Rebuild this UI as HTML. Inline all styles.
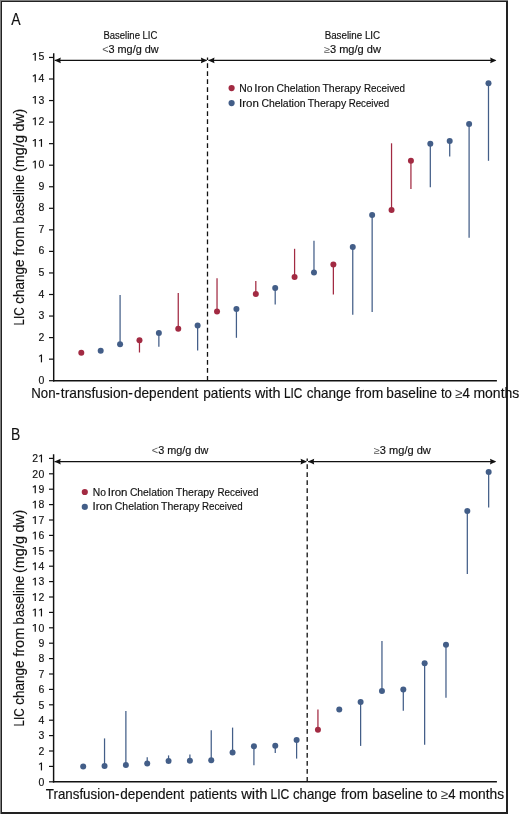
<!DOCTYPE html><html><head><meta charset="utf-8"><style>html,body{margin:0;padding:0;background:#fff;}svg{display:block;will-change:transform;}text{font-family:"Liberation Sans",sans-serif;fill:#111;stroke:#111;stroke-width:0.15px;} .sym{fill:#555;stroke-width:0;} .sym2{fill:#444;stroke-width:0;}</style></head><body>
<svg width="520" height="814" viewBox="0 0 520 814">
<rect x="0" y="0" width="520" height="814" fill="#fff"/>
<rect x="0" y="0" width="1" height="814" fill="#7f7f7f"/>
<rect x="0" y="0" width="508" height="1" fill="#7f7f7f"/>
<rect x="1" y="1" width="1" height="813" fill="#222"/>
<rect x="1" y="1" width="507" height="1" fill="#222"/>
<rect x="506" y="1" width="2" height="813" fill="#222"/>
<rect x="1" y="812" width="507" height="2" fill="#222"/>
<line x1="53.7" y1="53.2" x2="53.7" y2="381.4" stroke="#111" stroke-width="1.45"/>
<line x1="53.0" y1="380.7" x2="496.9" y2="380.7" stroke="#111" stroke-width="1.45"/>
<line x1="49" y1="380.70" x2="53.7" y2="380.70" stroke="#111" stroke-width="1.2"/>
<text x="41.30" y="383.70" font-size="10.5" text-anchor="middle" >0</text>
<line x1="49" y1="359.15" x2="53.7" y2="359.15" stroke="#111" stroke-width="1.2"/>
<path d="M41.45,354.60 V362.35" stroke="#111" stroke-width="1.2" fill="none"/>
<path d="M39.00,356.35 L41.60,354.95" stroke="#111" stroke-width="1.05" fill="none"/>
<line x1="49" y1="337.60" x2="53.7" y2="337.60" stroke="#111" stroke-width="1.2"/>
<text x="41.30" y="340.60" font-size="10.5" text-anchor="middle" >2</text>
<line x1="49" y1="316.05" x2="53.7" y2="316.05" stroke="#111" stroke-width="1.2"/>
<text x="41.30" y="319.05" font-size="10.5" text-anchor="middle" >3</text>
<line x1="49" y1="294.50" x2="53.7" y2="294.50" stroke="#111" stroke-width="1.2"/>
<text x="41.30" y="297.50" font-size="10.5" text-anchor="middle" >4</text>
<line x1="49" y1="272.95" x2="53.7" y2="272.95" stroke="#111" stroke-width="1.2"/>
<text x="41.30" y="275.95" font-size="10.5" text-anchor="middle" >5</text>
<line x1="49" y1="251.40" x2="53.7" y2="251.40" stroke="#111" stroke-width="1.2"/>
<text x="41.30" y="254.40" font-size="10.5" text-anchor="middle" >6</text>
<line x1="49" y1="229.85" x2="53.7" y2="229.85" stroke="#111" stroke-width="1.2"/>
<text x="41.30" y="232.85" font-size="10.5" text-anchor="middle" >7</text>
<line x1="49" y1="208.30" x2="53.7" y2="208.30" stroke="#111" stroke-width="1.2"/>
<text x="41.30" y="211.30" font-size="10.5" text-anchor="middle" >8</text>
<line x1="49" y1="186.75" x2="53.7" y2="186.75" stroke="#111" stroke-width="1.2"/>
<text x="41.30" y="189.75" font-size="10.5" text-anchor="middle" >9</text>
<line x1="49" y1="165.20" x2="53.7" y2="165.20" stroke="#111" stroke-width="1.2"/>
<text x="41.30" y="168.20" font-size="10.5" text-anchor="middle" >0</text>
<path d="M35.25,160.65 V168.40" stroke="#111" stroke-width="1.2" fill="none"/>
<path d="M32.80,162.40 L35.40,161.00" stroke="#111" stroke-width="1.05" fill="none"/>
<line x1="49" y1="143.65" x2="53.7" y2="143.65" stroke="#111" stroke-width="1.2"/>
<path d="M41.45,139.10 V146.85" stroke="#111" stroke-width="1.2" fill="none"/>
<path d="M39.00,140.85 L41.60,139.45" stroke="#111" stroke-width="1.05" fill="none"/>
<path d="M35.25,139.10 V146.85" stroke="#111" stroke-width="1.2" fill="none"/>
<path d="M32.80,140.85 L35.40,139.45" stroke="#111" stroke-width="1.05" fill="none"/>
<line x1="49" y1="122.10" x2="53.7" y2="122.10" stroke="#111" stroke-width="1.2"/>
<text x="41.30" y="125.10" font-size="10.5" text-anchor="middle" >2</text>
<path d="M35.25,117.55 V125.30" stroke="#111" stroke-width="1.2" fill="none"/>
<path d="M32.80,119.30 L35.40,117.90" stroke="#111" stroke-width="1.05" fill="none"/>
<line x1="49" y1="100.55" x2="53.7" y2="100.55" stroke="#111" stroke-width="1.2"/>
<text x="41.30" y="103.55" font-size="10.5" text-anchor="middle" >3</text>
<path d="M35.25,96.00 V103.75" stroke="#111" stroke-width="1.2" fill="none"/>
<path d="M32.80,97.75 L35.40,96.35" stroke="#111" stroke-width="1.05" fill="none"/>
<line x1="49" y1="79.00" x2="53.7" y2="79.00" stroke="#111" stroke-width="1.2"/>
<text x="41.30" y="82.00" font-size="10.5" text-anchor="middle" >4</text>
<path d="M35.25,74.45 V82.20" stroke="#111" stroke-width="1.2" fill="none"/>
<path d="M32.80,76.20 L35.40,74.80" stroke="#111" stroke-width="1.05" fill="none"/>
<line x1="49" y1="57.45" x2="53.7" y2="57.45" stroke="#111" stroke-width="1.2"/>
<text x="41.30" y="60.45" font-size="10.5" text-anchor="middle" >5</text>
<path d="M35.25,52.90 V60.65" stroke="#111" stroke-width="1.2" fill="none"/>
<path d="M32.80,54.65 L35.40,53.25" stroke="#111" stroke-width="1.05" fill="none"/>
<line x1="207.5" y1="380.7" x2="207.5" y2="57.45" stroke="#111" stroke-width="1.3" stroke-dasharray="4.75 3.27"/>
<line x1="54.7" y1="60.4" x2="206.5" y2="60.4" stroke="#111" stroke-width="1.4"/>
<line x1="208.5" y1="60.4" x2="495.4" y2="60.4" stroke="#111" stroke-width="1.4"/>
<path d="M54.6,60.4 L60.800000000000004,57.5 L60.2,60.4 L60.800000000000004,63.3 Z" fill="#111"/>
<path d="M207.1,60.4 L200.9,57.5 L201.5,60.4 L200.9,63.3 Z" fill="#111"/>
<path d="M208.3,60.4 L214.5,57.5 L213.9,60.4 L214.5,63.3 Z" fill="#111"/>
<path d="M496.4,60.4 L490.2,57.5 L490.79999999999995,60.4 L490.2,63.3 Z" fill="#111"/>
<circle cx="81.30" cy="352.7" r="3.0" fill="#a22a42"/>
<circle cx="100.69" cy="350.8" r="3.0" fill="#435e88"/>
<line x1="120.08" y1="344.2" x2="120.08" y2="295" stroke="#435e88" stroke-width="1.25"/>
<circle cx="120.08" cy="344.2" r="3.0" fill="#435e88"/>
<line x1="139.47" y1="340.3" x2="139.47" y2="352.5" stroke="#a22a42" stroke-width="1.25"/>
<circle cx="139.47" cy="340.3" r="3.0" fill="#a22a42"/>
<line x1="158.86" y1="333.1" x2="158.86" y2="346.8" stroke="#435e88" stroke-width="1.25"/>
<circle cx="158.86" cy="333.1" r="3.0" fill="#435e88"/>
<line x1="178.25" y1="328.7" x2="178.25" y2="293.1" stroke="#a22a42" stroke-width="1.25"/>
<circle cx="178.25" cy="328.7" r="3.0" fill="#a22a42"/>
<line x1="197.64" y1="325.5" x2="197.64" y2="350.4" stroke="#435e88" stroke-width="1.25"/>
<circle cx="197.64" cy="325.5" r="3.0" fill="#435e88"/>
<line x1="217.03" y1="311.5" x2="217.03" y2="278.3" stroke="#a22a42" stroke-width="1.25"/>
<circle cx="217.03" cy="311.5" r="3.0" fill="#a22a42"/>
<line x1="236.42" y1="309" x2="236.42" y2="337.8" stroke="#435e88" stroke-width="1.25"/>
<circle cx="236.42" cy="309" r="3.0" fill="#435e88"/>
<line x1="255.81" y1="293.9" x2="255.81" y2="281" stroke="#a22a42" stroke-width="1.25"/>
<circle cx="255.81" cy="293.9" r="3.0" fill="#a22a42"/>
<line x1="275.20" y1="287.9" x2="275.20" y2="304.6" stroke="#435e88" stroke-width="1.25"/>
<circle cx="275.20" cy="287.9" r="3.0" fill="#435e88"/>
<line x1="294.59" y1="277.1" x2="294.59" y2="248.8" stroke="#a22a42" stroke-width="1.25"/>
<circle cx="294.59" cy="277.1" r="3.0" fill="#a22a42"/>
<line x1="313.98" y1="272.5" x2="313.98" y2="240.8" stroke="#435e88" stroke-width="1.25"/>
<circle cx="313.98" cy="272.5" r="3.0" fill="#435e88"/>
<line x1="333.37" y1="264.4" x2="333.37" y2="294.6" stroke="#a22a42" stroke-width="1.25"/>
<circle cx="333.37" cy="264.4" r="3.0" fill="#a22a42"/>
<line x1="352.76" y1="246.9" x2="352.76" y2="314.8" stroke="#435e88" stroke-width="1.25"/>
<circle cx="352.76" cy="246.9" r="3.0" fill="#435e88"/>
<line x1="372.15" y1="215" x2="372.15" y2="312.1" stroke="#435e88" stroke-width="1.25"/>
<circle cx="372.15" cy="215" r="3.0" fill="#435e88"/>
<line x1="391.54" y1="210.1" x2="391.54" y2="143.3" stroke="#a22a42" stroke-width="1.25"/>
<circle cx="391.54" cy="210.1" r="3.0" fill="#a22a42"/>
<line x1="410.93" y1="160.8" x2="410.93" y2="189.1" stroke="#a22a42" stroke-width="1.25"/>
<circle cx="410.93" cy="160.8" r="3.0" fill="#a22a42"/>
<line x1="430.32" y1="143.8" x2="430.32" y2="187.2" stroke="#435e88" stroke-width="1.25"/>
<circle cx="430.32" cy="143.8" r="3.0" fill="#435e88"/>
<line x1="449.71" y1="141.1" x2="449.71" y2="156.5" stroke="#435e88" stroke-width="1.25"/>
<circle cx="449.71" cy="141.1" r="3.0" fill="#435e88"/>
<line x1="469.10" y1="124" x2="469.10" y2="237.8" stroke="#435e88" stroke-width="1.25"/>
<circle cx="469.10" cy="124" r="3.0" fill="#435e88"/>
<line x1="488.49" y1="83.3" x2="488.49" y2="160.8" stroke="#435e88" stroke-width="1.25"/>
<circle cx="488.49" cy="83.3" r="3.0" fill="#435e88"/>
<line x1="53.6" y1="454.3" x2="53.6" y2="782.5" stroke="#111" stroke-width="1.45"/>
<line x1="52.9" y1="781.8" x2="496.9" y2="781.8" stroke="#111" stroke-width="1.45"/>
<line x1="49" y1="781.80" x2="53.6" y2="781.80" stroke="#111" stroke-width="1.2"/>
<text x="41.30" y="785.60" font-size="10.5" text-anchor="middle" >0</text>
<line x1="49" y1="766.40" x2="53.6" y2="766.40" stroke="#111" stroke-width="1.2"/>
<path d="M41.45,762.65 V770.40" stroke="#111" stroke-width="1.2" fill="none"/>
<path d="M39.00,764.40 L41.60,763.00" stroke="#111" stroke-width="1.05" fill="none"/>
<line x1="49" y1="751.00" x2="53.6" y2="751.00" stroke="#111" stroke-width="1.2"/>
<text x="41.30" y="754.80" font-size="10.5" text-anchor="middle" >2</text>
<line x1="49" y1="735.60" x2="53.6" y2="735.60" stroke="#111" stroke-width="1.2"/>
<text x="41.30" y="739.40" font-size="10.5" text-anchor="middle" >3</text>
<line x1="49" y1="720.20" x2="53.6" y2="720.20" stroke="#111" stroke-width="1.2"/>
<text x="41.30" y="724.00" font-size="10.5" text-anchor="middle" >4</text>
<line x1="49" y1="704.80" x2="53.6" y2="704.80" stroke="#111" stroke-width="1.2"/>
<text x="41.30" y="708.60" font-size="10.5" text-anchor="middle" >5</text>
<line x1="49" y1="689.40" x2="53.6" y2="689.40" stroke="#111" stroke-width="1.2"/>
<text x="41.30" y="693.20" font-size="10.5" text-anchor="middle" >6</text>
<line x1="49" y1="674.00" x2="53.6" y2="674.00" stroke="#111" stroke-width="1.2"/>
<text x="41.30" y="677.80" font-size="10.5" text-anchor="middle" >7</text>
<line x1="49" y1="658.60" x2="53.6" y2="658.60" stroke="#111" stroke-width="1.2"/>
<text x="41.30" y="662.40" font-size="10.5" text-anchor="middle" >8</text>
<line x1="49" y1="643.20" x2="53.6" y2="643.20" stroke="#111" stroke-width="1.2"/>
<text x="41.30" y="647.00" font-size="10.5" text-anchor="middle" >9</text>
<line x1="49" y1="627.80" x2="53.6" y2="627.80" stroke="#111" stroke-width="1.2"/>
<text x="41.30" y="631.60" font-size="10.5" text-anchor="middle" >0</text>
<path d="M35.25,624.05 V631.80" stroke="#111" stroke-width="1.2" fill="none"/>
<path d="M32.80,625.80 L35.40,624.40" stroke="#111" stroke-width="1.05" fill="none"/>
<line x1="49" y1="612.40" x2="53.6" y2="612.40" stroke="#111" stroke-width="1.2"/>
<path d="M41.45,608.65 V616.40" stroke="#111" stroke-width="1.2" fill="none"/>
<path d="M39.00,610.40 L41.60,609.00" stroke="#111" stroke-width="1.05" fill="none"/>
<path d="M35.25,608.65 V616.40" stroke="#111" stroke-width="1.2" fill="none"/>
<path d="M32.80,610.40 L35.40,609.00" stroke="#111" stroke-width="1.05" fill="none"/>
<line x1="49" y1="597.00" x2="53.6" y2="597.00" stroke="#111" stroke-width="1.2"/>
<text x="41.30" y="600.80" font-size="10.5" text-anchor="middle" >2</text>
<path d="M35.25,593.25 V601.00" stroke="#111" stroke-width="1.2" fill="none"/>
<path d="M32.80,595.00 L35.40,593.60" stroke="#111" stroke-width="1.05" fill="none"/>
<line x1="49" y1="581.60" x2="53.6" y2="581.60" stroke="#111" stroke-width="1.2"/>
<text x="41.30" y="585.40" font-size="10.5" text-anchor="middle" >3</text>
<path d="M35.25,577.85 V585.60" stroke="#111" stroke-width="1.2" fill="none"/>
<path d="M32.80,579.60 L35.40,578.20" stroke="#111" stroke-width="1.05" fill="none"/>
<line x1="49" y1="566.20" x2="53.6" y2="566.20" stroke="#111" stroke-width="1.2"/>
<text x="41.30" y="570.00" font-size="10.5" text-anchor="middle" >4</text>
<path d="M35.25,562.45 V570.20" stroke="#111" stroke-width="1.2" fill="none"/>
<path d="M32.80,564.20 L35.40,562.80" stroke="#111" stroke-width="1.05" fill="none"/>
<line x1="49" y1="550.80" x2="53.6" y2="550.80" stroke="#111" stroke-width="1.2"/>
<text x="41.30" y="554.60" font-size="10.5" text-anchor="middle" >5</text>
<path d="M35.25,547.05 V554.80" stroke="#111" stroke-width="1.2" fill="none"/>
<path d="M32.80,548.80 L35.40,547.40" stroke="#111" stroke-width="1.05" fill="none"/>
<line x1="49" y1="535.40" x2="53.6" y2="535.40" stroke="#111" stroke-width="1.2"/>
<text x="41.30" y="539.20" font-size="10.5" text-anchor="middle" >6</text>
<path d="M35.25,531.65 V539.40" stroke="#111" stroke-width="1.2" fill="none"/>
<path d="M32.80,533.40 L35.40,532.00" stroke="#111" stroke-width="1.05" fill="none"/>
<line x1="49" y1="520.00" x2="53.6" y2="520.00" stroke="#111" stroke-width="1.2"/>
<text x="41.30" y="523.80" font-size="10.5" text-anchor="middle" >7</text>
<path d="M35.25,516.25 V524.00" stroke="#111" stroke-width="1.2" fill="none"/>
<path d="M32.80,518.00 L35.40,516.60" stroke="#111" stroke-width="1.05" fill="none"/>
<line x1="49" y1="504.60" x2="53.6" y2="504.60" stroke="#111" stroke-width="1.2"/>
<text x="41.30" y="508.40" font-size="10.5" text-anchor="middle" >8</text>
<path d="M35.25,500.85 V508.60" stroke="#111" stroke-width="1.2" fill="none"/>
<path d="M32.80,502.60 L35.40,501.20" stroke="#111" stroke-width="1.05" fill="none"/>
<line x1="49" y1="489.20" x2="53.6" y2="489.20" stroke="#111" stroke-width="1.2"/>
<text x="41.30" y="493.00" font-size="10.5" text-anchor="middle" >9</text>
<path d="M35.25,485.45 V493.20" stroke="#111" stroke-width="1.2" fill="none"/>
<path d="M32.80,487.20 L35.40,485.80" stroke="#111" stroke-width="1.05" fill="none"/>
<line x1="49" y1="473.80" x2="53.6" y2="473.80" stroke="#111" stroke-width="1.2"/>
<text x="41.30" y="477.60" font-size="10.5" text-anchor="middle" >0</text>
<text x="35.10" y="477.60" font-size="10.5" text-anchor="middle" >2</text>
<line x1="49" y1="458.40" x2="53.6" y2="458.40" stroke="#111" stroke-width="1.2"/>
<path d="M41.45,454.65 V462.40" stroke="#111" stroke-width="1.2" fill="none"/>
<path d="M39.00,456.40 L41.60,455.00" stroke="#111" stroke-width="1.05" fill="none"/>
<text x="35.10" y="462.20" font-size="10.5" text-anchor="middle" >2</text>
<line x1="307.2" y1="781.8" x2="307.2" y2="458.40" stroke="#111" stroke-width="1.3" stroke-dasharray="4.75 3.27"/>
<line x1="54.6" y1="461.6" x2="306.2" y2="461.6" stroke="#111" stroke-width="1.4"/>
<line x1="308.2" y1="461.6" x2="495.2" y2="461.6" stroke="#111" stroke-width="1.4"/>
<path d="M54.5,461.6 L60.7,458.70000000000005 L60.1,461.6 L60.7,464.5 Z" fill="#111"/>
<path d="M306.8,461.6 L300.6,458.70000000000005 L301.2,461.6 L300.6,464.5 Z" fill="#111"/>
<path d="M308.0,461.6 L314.2,458.70000000000005 L313.6,461.6 L314.2,464.5 Z" fill="#111"/>
<path d="M496.2,461.6 L490.0,458.70000000000005 L490.59999999999997,461.6 L490.0,464.5 Z" fill="#111"/>
<circle cx="83.20" cy="766.5" r="3.0" fill="#435e88"/>
<line x1="104.54" y1="766" x2="104.54" y2="738.4" stroke="#435e88" stroke-width="1.25"/>
<circle cx="104.54" cy="766" r="3.0" fill="#435e88"/>
<line x1="125.88" y1="764.9" x2="125.88" y2="710.9" stroke="#435e88" stroke-width="1.25"/>
<circle cx="125.88" cy="764.9" r="3.0" fill="#435e88"/>
<line x1="147.22" y1="763.5" x2="147.22" y2="757.2" stroke="#435e88" stroke-width="1.25"/>
<circle cx="147.22" cy="763.5" r="3.0" fill="#435e88"/>
<line x1="168.56" y1="761.1" x2="168.56" y2="755.4" stroke="#435e88" stroke-width="1.25"/>
<circle cx="168.56" cy="761.1" r="3.0" fill="#435e88"/>
<line x1="189.90" y1="760.7" x2="189.90" y2="754.6" stroke="#435e88" stroke-width="1.25"/>
<circle cx="189.90" cy="760.7" r="3.0" fill="#435e88"/>
<line x1="211.24" y1="760.3" x2="211.24" y2="730.3" stroke="#435e88" stroke-width="1.25"/>
<circle cx="211.24" cy="760.3" r="3.0" fill="#435e88"/>
<line x1="232.58" y1="752.5" x2="232.58" y2="727.6" stroke="#435e88" stroke-width="1.25"/>
<circle cx="232.58" cy="752.5" r="3.0" fill="#435e88"/>
<line x1="253.92" y1="746.3" x2="253.92" y2="765.2" stroke="#435e88" stroke-width="1.25"/>
<circle cx="253.92" cy="746.3" r="3.0" fill="#435e88"/>
<line x1="275.26" y1="745.7" x2="275.26" y2="752.9" stroke="#435e88" stroke-width="1.25"/>
<circle cx="275.26" cy="745.7" r="3.0" fill="#435e88"/>
<line x1="296.60" y1="740" x2="296.60" y2="758.6" stroke="#435e88" stroke-width="1.25"/>
<circle cx="296.60" cy="740" r="3.0" fill="#435e88"/>
<line x1="317.94" y1="729.7" x2="317.94" y2="709.4" stroke="#a22a42" stroke-width="1.25"/>
<circle cx="317.94" cy="729.7" r="3.0" fill="#a22a42"/>
<circle cx="339.28" cy="709.4" r="3.0" fill="#435e88"/>
<line x1="360.62" y1="701.9" x2="360.62" y2="745.9" stroke="#435e88" stroke-width="1.25"/>
<circle cx="360.62" cy="701.9" r="3.0" fill="#435e88"/>
<line x1="381.96" y1="691" x2="381.96" y2="640.9" stroke="#435e88" stroke-width="1.25"/>
<circle cx="381.96" cy="691" r="3.0" fill="#435e88"/>
<line x1="403.30" y1="689.5" x2="403.30" y2="710.8" stroke="#435e88" stroke-width="1.25"/>
<circle cx="403.30" cy="689.5" r="3.0" fill="#435e88"/>
<line x1="424.64" y1="663.2" x2="424.64" y2="744.7" stroke="#435e88" stroke-width="1.25"/>
<circle cx="424.64" cy="663.2" r="3.0" fill="#435e88"/>
<line x1="445.98" y1="644.7" x2="445.98" y2="697.8" stroke="#435e88" stroke-width="1.25"/>
<circle cx="445.98" cy="644.7" r="3.0" fill="#435e88"/>
<line x1="467.32" y1="511.1" x2="467.32" y2="573.9" stroke="#435e88" stroke-width="1.25"/>
<circle cx="467.32" cy="511.1" r="3.0" fill="#435e88"/>
<line x1="488.66" y1="472.1" x2="488.66" y2="507.6" stroke="#435e88" stroke-width="1.25"/>
<circle cx="488.66" cy="472.1" r="3.0" fill="#435e88"/>
<text x="11.37" y="25.4" font-size="16" text-anchor="start" textLength="9.35" lengthAdjust="spacingAndGlyphs" >A</text>
<text x="10.96" y="439.6" font-size="16.4" text-anchor="start" textLength="9.27" lengthAdjust="spacingAndGlyphs" >B</text>
<text x="130.4" y="38.7" font-size="10" text-anchor="middle" textLength="54" lengthAdjust="spacingAndGlyphs" style="stroke-width:0.15px" >Baseline LIC</text>
<text x="130.4" y="52.9" font-size="10" text-anchor="middle" textLength="56.5" lengthAdjust="spacingAndGlyphs" style="stroke-width:0.15px" ><tspan class="sym">&lt;</tspan>3 mg/g dw</text>
<text x="352.4" y="38.7" font-size="10" text-anchor="middle" textLength="55.5" lengthAdjust="spacingAndGlyphs" style="stroke-width:0.15px" >Baseline LIC</text>
<text x="352.4" y="52.9" font-size="10" text-anchor="middle" textLength="57" lengthAdjust="spacingAndGlyphs" style="stroke-width:0.15px" ><tspan class="sym">≥</tspan>3 mg/g dw</text>
<text x="180.1" y="454.4" font-size="10" text-anchor="middle" textLength="56.5" lengthAdjust="spacingAndGlyphs" style="stroke-width:0.15px" ><tspan class="sym">&lt;</tspan>3 mg/g dw</text>
<text x="402.3" y="454.4" font-size="10" text-anchor="middle" textLength="57" lengthAdjust="spacingAndGlyphs" style="stroke-width:0.15px" ><tspan class="sym">≥</tspan>3 mg/g dw</text>
<circle cx="231.6" cy="88.1" r="3.1" fill="#a22a42"/>
<circle cx="231.6" cy="103.1" r="3.1" fill="#435e88"/>
<text x="239.30" y="92.4" font-size="10" textLength="13.18" lengthAdjust="spacingAndGlyphs" style="stroke-width:0.15px">No</text>
<text x="254.29" y="92.4" font-size="10" textLength="19.81" lengthAdjust="spacingAndGlyphs" style="stroke-width:0.15px">Iron</text>
<text x="276.52" y="92.4" font-size="10" textLength="43.70" lengthAdjust="spacingAndGlyphs" style="stroke-width:0.15px">Chelation</text>
<text x="322.41" y="92.4" font-size="10" textLength="38.56" lengthAdjust="spacingAndGlyphs" style="stroke-width:0.15px">Therapy</text>
<text x="364.04" y="92.4" font-size="10" textLength="40.94" lengthAdjust="spacingAndGlyphs" style="stroke-width:0.15px">Received</text>
<text x="239.09" y="107.4" font-size="10" textLength="19.81" lengthAdjust="spacingAndGlyphs" style="stroke-width:0.15px">Iron</text>
<text x="261.42" y="107.4" font-size="10" textLength="44.11" lengthAdjust="spacingAndGlyphs" style="stroke-width:0.15px">Chelation</text>
<text x="307.71" y="107.4" font-size="10" textLength="38.46" lengthAdjust="spacingAndGlyphs" style="stroke-width:0.15px">Therapy</text>
<text x="348.65" y="107.4" font-size="10" textLength="40.52" lengthAdjust="spacingAndGlyphs" style="stroke-width:0.15px">Received</text>
<circle cx="84.8" cy="492" r="3.1" fill="#a22a42"/>
<circle cx="84.8" cy="506.9" r="3.1" fill="#435e88"/>
<text x="92.70" y="495.5" font-size="10" textLength="13.18" lengthAdjust="spacingAndGlyphs" style="stroke-width:0.15px">No</text>
<text x="107.69" y="495.5" font-size="10" textLength="19.81" lengthAdjust="spacingAndGlyphs" style="stroke-width:0.15px">Iron</text>
<text x="129.92" y="495.5" font-size="10" textLength="43.70" lengthAdjust="spacingAndGlyphs" style="stroke-width:0.15px">Chelation</text>
<text x="175.81" y="495.5" font-size="10" textLength="38.56" lengthAdjust="spacingAndGlyphs" style="stroke-width:0.15px">Therapy</text>
<text x="217.44" y="495.5" font-size="10" textLength="40.94" lengthAdjust="spacingAndGlyphs" style="stroke-width:0.15px">Received</text>
<text x="92.49" y="510.4" font-size="10" textLength="19.81" lengthAdjust="spacingAndGlyphs" style="stroke-width:0.15px">Iron</text>
<text x="114.82" y="510.4" font-size="10" textLength="44.11" lengthAdjust="spacingAndGlyphs" style="stroke-width:0.15px">Chelation</text>
<text x="161.11" y="510.4" font-size="10" textLength="38.46" lengthAdjust="spacingAndGlyphs" style="stroke-width:0.15px">Therapy</text>
<text x="202.05" y="510.4" font-size="10" textLength="40.52" lengthAdjust="spacingAndGlyphs" style="stroke-width:0.15px">Received</text>
<g transform="translate(23.6,0) rotate(-90)">
<text x="-325.50" y="0" font-size="14" textLength="17.99" lengthAdjust="spacingAndGlyphs">LIC</text>
<text x="-303.72" y="0" font-size="14" textLength="44.07" lengthAdjust="spacingAndGlyphs">change</text>
<text x="-255.86" y="0" font-size="14" textLength="29.27" lengthAdjust="spacingAndGlyphs">from</text>
<text x="-223.39" y="0" font-size="14" textLength="48.72" lengthAdjust="spacingAndGlyphs">baseline</text>
<text x="-172.05" y="0" font-size="14" textLength="37.03" lengthAdjust="spacingAndGlyphs">(mg/g</text>
<text x="-131.54" y="0" font-size="14" textLength="22.77" lengthAdjust="spacingAndGlyphs">dw)</text>
</g>
<g transform="translate(23.6,0) rotate(-90)">
<text x="-726.50" y="0" font-size="14" textLength="17.99" lengthAdjust="spacingAndGlyphs">LIC</text>
<text x="-704.72" y="0" font-size="14" textLength="44.07" lengthAdjust="spacingAndGlyphs">change</text>
<text x="-656.86" y="0" font-size="14" textLength="29.27" lengthAdjust="spacingAndGlyphs">from</text>
<text x="-624.39" y="0" font-size="14" textLength="48.72" lengthAdjust="spacingAndGlyphs">baseline</text>
<text x="-573.05" y="0" font-size="14" textLength="37.03" lengthAdjust="spacingAndGlyphs">(mg/g</text>
<text x="-532.54" y="0" font-size="14" textLength="22.77" lengthAdjust="spacingAndGlyphs">dw)</text>
</g>
<text x="31.26" y="397.6" font-size="13.9" textLength="28.67" lengthAdjust="spacingAndGlyphs">Non-</text>
<text x="60.84" y="397.6" font-size="13.9" textLength="72.02" lengthAdjust="spacingAndGlyphs">transfusion-</text>
<text x="133.98" y="397.6" font-size="13.9" textLength="64.27" lengthAdjust="spacingAndGlyphs">dependent</text>
<text x="203.27" y="397.6" font-size="13.9" textLength="47.67" lengthAdjust="spacingAndGlyphs">patients</text>
<text x="254.97" y="397.6" font-size="13.9" textLength="25.61" lengthAdjust="spacingAndGlyphs">with</text>
<text x="283.98" y="397.6" font-size="13.9" textLength="18.42" lengthAdjust="spacingAndGlyphs">LIC</text>
<text x="306.68" y="397.6" font-size="13.9" textLength="44.38" lengthAdjust="spacingAndGlyphs">change</text>
<text x="355.55" y="397.6" font-size="13.9" textLength="27.61" lengthAdjust="spacingAndGlyphs">from</text>
<text x="386.37" y="397.6" font-size="13.9" textLength="50.78" lengthAdjust="spacingAndGlyphs">baseline</text>
<text x="440.95" y="397.6" font-size="13.9" textLength="11.06" lengthAdjust="spacingAndGlyphs">to</text>
<text x="455.33" y="397.6" font-size="13.9" textLength="14.61" lengthAdjust="spacingAndGlyphs"><tspan class="sym2">≥</tspan>4</text>
<text x="473.42" y="397.6" font-size="13.9" textLength="45.94" lengthAdjust="spacingAndGlyphs">months</text>
<text x="45.85" y="798.7" font-size="13.9" textLength="73.59" lengthAdjust="spacingAndGlyphs">Transfusion-</text>
<text x="120.28" y="798.7" font-size="13.9" textLength="64.07" lengthAdjust="spacingAndGlyphs">dependent</text>
<text x="189.78" y="798.7" font-size="13.9" textLength="47.26" lengthAdjust="spacingAndGlyphs">patients</text>
<text x="241.17" y="798.7" font-size="13.9" textLength="26.34" lengthAdjust="spacingAndGlyphs">with</text>
<text x="270.46" y="798.7" font-size="13.9" textLength="18.86" lengthAdjust="spacingAndGlyphs">LIC</text>
<text x="292.99" y="798.7" font-size="13.9" textLength="43.45" lengthAdjust="spacingAndGlyphs">change</text>
<text x="340.96" y="798.7" font-size="13.9" textLength="27.08" lengthAdjust="spacingAndGlyphs">from</text>
<text x="372.17" y="798.7" font-size="13.9" textLength="50.78" lengthAdjust="spacingAndGlyphs">baseline</text>
<text x="426.65" y="798.7" font-size="13.9" textLength="10.84" lengthAdjust="spacingAndGlyphs">to</text>
<text x="440.93" y="798.7" font-size="13.9" textLength="14.50" lengthAdjust="spacingAndGlyphs"><tspan class="sym2">≥</tspan>4</text>
<text x="458.93" y="798.7" font-size="13.9" textLength="45.21" lengthAdjust="spacingAndGlyphs">months</text>
</svg></body></html>
